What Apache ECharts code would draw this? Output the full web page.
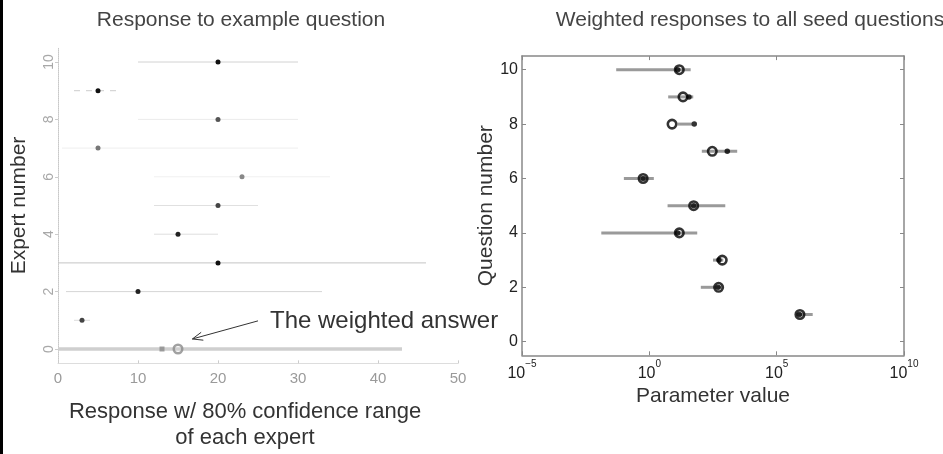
<!DOCTYPE html>
<html><head><meta charset="utf-8">
<script src="https://cdn.jsdelivr.net/npm/echarts@6/dist/echarts.min.js"></script>
<style>html,body{margin:0;padding:0;background:#fff}#c{width:943px;height:454px}</style>
</head><body><div id="c"></div>
<script>
// ---------- Left panel: responses to the example question ----------
const experts        = [1, 2, 3, 4, 5, 6, 7, 8, 9, 10];
const expertResponse = [3, 10, 20, 15, 20, 23, 5, 20, 5, 20];
const expertLow      = [2, 1, 0, 12, 12, 12, 0.5, 10, 2, 10];
const expertHigh     = [4, 33, 46, 20, 25, 34, 30, 30, 8, 30];
const weightedRow    = 0;
const weightedAnswer = 15;
const weightedMarker = 13;
const weightedLow    = 0;
const weightedHigh   = 43;
const leftXTicks     = [0, 10, 20, 30, 40, 50];
const yTicks         = [0, 2, 4, 6, 8, 10];

// ---------- Right panel: weighted responses to all seed questions ----------
const questions     = [1, 2, 3, 4, 5, 6, 7, 8, 9, 10];
const qWeighted     = [8.2e5, 525, 730, 15, 55, 0.57, 296, 7.8, 21, 15];
const qRealization  = [7.8e5, 500, 540, 13, 55, 0.57, 1150, 58, 36, 13];
const qLow          = [6e5, 105, 316, 0.013, 5.2, 0.1, 115, 13, 5.5, 0.05];
const qHigh         = [2.6e6, 710, 800, 76, 960, 1.5, 2820, 47, 53, 42];
const rightXTicks   = [1e-5, 1, 1e5, 1e10];

// ---------- styles (not data) ----------
const FONT = "'Liberation Sans', Arial, sans-serif";
const rowLineColor = ['#dcdcdc', '#d6d6d6', '#c4c4c4', '#dedede', '#e0e0e0', '#f0f0f0', '#eeeeee', '#ebebeb', '#cccccc', '#d2d2d2'];
const rowLineType  = ['solid', 'solid', 'solid', 'solid', 'solid', 'solid', 'solid', 'solid', 'dashed', 'solid'];
const rowDotColor  = ['#444', '#222', '#111', '#222', '#444', '#888', '#777', '#555', '#111', '#111'];

const chart = echarts.init(document.getElementById('c'), null, {renderer: 'canvas'});

const leftRanges = experts.map((e, i) => [expertLow[i], expertHigh[i], e]);
leftRanges.push([weightedLow, weightedHigh, weightedRow]);
const rightRanges = questions.map((q, i) => [qLow[i], qHigh[i], q]);

function rangeRenderer(styleFn) {
  return function (params, api) {
    const y = api.value(2);
    const p1 = api.coord([api.value(0), y]);
    const p2 = api.coord([api.value(1), y]);
    return {type: 'line', shape: {x1: p1[0], y1: p1[1], x2: p2[0], y2: p2[1]}, style: styleFn(params.dataIndex)};
  };
}

const supFmt = v => {
  const e = Math.round(Math.log10(v));
  return '{b|10}{s|' + (e < 0 ? '\u2212' + (-e) : e) + '}';
};

const option = {
  animation: false,
  backgroundColor: '#fff',
  textStyle: {fontFamily: FONT},
  title: [
    {text: 'Response to example question', left: 236, top: 5, textAlign: 'center',
     textStyle: {fontFamily: FONT, fontSize: 21, fontWeight: 'normal', color: '#444'}},
    {text: 'Weighted responses to all seed questions', left: 745, top: 5, textAlign: 'center',
     textStyle: {fontFamily: FONT, fontSize: 21, fontWeight: 'normal', color: '#444'}}
  ],
  grid: [
    {left: 58, top: 47.65, width: 400, height: 315.7, containLabel: false, outerBoundsMode: 'none'},
    {left: 522, top: 56.1, width: 382, height: 299.2, containLabel: false, outerBoundsMode: 'none'}
  ],
  xAxis: [
    {type: 'value', gridIndex: 0, min: 0, max: 50, interval: 10,
     axisLine: {show: true, onZero: false, lineStyle: {color: '#dddddd', width: 1}},
     axisTick: {show: true, inside: true, length: 3, lineStyle: {color: '#cccccc'}},
     axisLabel: {color: '#9a9a9a', fontSize: 15, margin: 8, fontFamily: FONT},
     splitLine: {show: false},
     name: 'Response w/ 80% confidence range\nof each expert', nameLocation: 'middle', nameGap: 36,
     nameTextStyle: {fontSize: 22, color: '#333', lineHeight: 26, fontFamily: FONT, padding: [0, 26, 0, 0]}},
    {type: 'log', gridIndex: 1, logBase: 10, min: 1e-5, max: 1e10, interval: 5,
     axisLine: {show: true, onZero: false, lineStyle: {color: '#888', width: 1.5}},
     axisTick: {show: true, inside: true, length: 4, lineStyle: {color: '#888'}},
     axisLabel: {formatter: supFmt, margin: 4,
       rich: {b: {fontSize: 16, color: '#222', fontFamily: FONT, lineHeight: 22, verticalAlign: 'bottom'},
              s: {fontSize: 10, color: '#222', fontFamily: FONT, lineHeight: 22, verticalAlign: 'top'}}},
     splitLine: {show: false}, minorTick: {show: false},
     name: 'Parameter value', nameLocation: 'middle', nameGap: 23,
     nameTextStyle: {fontSize: 21, color: '#333', fontFamily: FONT}},
    {type: 'log', gridIndex: 1, logBase: 10, min: 1e-5, max: 1e10, interval: 5, position: 'top',
     axisLine: {show: true, onZero: false, lineStyle: {color: '#888', width: 1.5}},
     axisTick: {show: true, inside: true, length: 4, lineStyle: {color: '#888'}},
     axisLabel: {show: false}, splitLine: {show: false}}
  ],
  yAxis: [
    {type: 'value', gridIndex: 0, min: -0.5, max: 10.5,
     axisLine: {show: true, onZero: false, lineStyle: {color: '#c8c8c8', type: 'dotted', width: 1}},
     axisTick: {show: true, length: 3, customValues: yTicks, lineStyle: {color: '#cccccc'}},
     axisLabel: {show: true, customValues: yTicks, rotate: 90, color: '#a8a8a8', fontSize: 14, margin: 2, fontFamily: FONT},
     splitLine: {show: false},
     name: 'Expert number', nameLocation: 'middle', nameGap: 28,
     nameTextStyle: {fontSize: 21, color: '#333', fontFamily: FONT}},
    {type: 'value', gridIndex: 1, min: -0.5, max: 10.5,
     axisLine: {show: true, onZero: false, lineStyle: {color: '#888', width: 1.5}},
     axisTick: {show: true, inside: true, length: 4, customValues: yTicks, lineStyle: {color: '#888'}},
     axisLabel: {show: true, customValues: yTicks, color: '#222', fontSize: 16, margin: 4, fontFamily: FONT},
     splitLine: {show: false},
     name: 'Question number', nameLocation: 'middle', nameGap: 16,
     nameTextStyle: {fontSize: 21, color: '#333', fontFamily: FONT}},
    {type: 'value', gridIndex: 1, min: -0.5, max: 10.5, position: 'right',
     axisLine: {show: true, onZero: false, lineStyle: {color: '#888', width: 1.5}},
     axisTick: {show: true, inside: true, length: 4, customValues: yTicks, lineStyle: {color: '#888'}},
     axisLabel: {show: false}, splitLine: {show: false}}
  ],
  series: [
    {type: 'custom', xAxisIndex: 0, yAxisIndex: 0, data: leftRanges, encode: {x: [0, 1], y: 2},
     renderItem: rangeRenderer(i => i < experts.length
       ? {stroke: rowLineColor[i], lineWidth: 1, lineDash: rowLineType[i] === 'dashed' ? [6, 6] : null}
       : {stroke: '#cfcfcf', lineWidth: 3.5}), z: 1},
    {type: 'scatter', xAxisIndex: 0, yAxisIndex: 0, symbol: 'circle', symbolSize: 5,
     data: experts.map((e, i) => [expertResponse[i], e]),
     itemStyle: {color: p => rowDotColor[p.dataIndex], opacity: 1}, z: 3},
    {type: 'scatter', xAxisIndex: 0, yAxisIndex: 0, symbol: 'rect', symbolSize: 5,
     data: [[weightedMarker, weightedRow]], itemStyle: {color: '#8a8a8a'}, z: 3},
    {type: 'scatter', xAxisIndex: 0, yAxisIndex: 0, symbol: 'circle', symbolSize: 8.5,
     data: [[weightedAnswer, weightedRow]],
     itemStyle: {color: 'rgba(0,0,0,0)', borderColor: '#8a8a8a', borderWidth: 2.5}, z: 4},

    {type: 'custom', xAxisIndex: 1, yAxisIndex: 1, data: rightRanges, encode: {x: [0, 1], y: 2},
     renderItem: rangeRenderer(() => ({stroke: '#9a9a9a', lineWidth: 3})), z: 1},
    {type: 'scatter', xAxisIndex: 1, yAxisIndex: 1, symbol: 'circle', symbolSize: 5.5,
     data: questions.map((q, i) => [qRealization[i], q]), itemStyle: {color: '#000'}, z: 3},
    {type: 'scatter', xAxisIndex: 1, yAxisIndex: 1, symbol: 'circle', symbolSize: 8.5,
     data: questions.map((q, i) => [qWeighted[i], q]),
     itemStyle: {color: 'rgba(0,0,0,0)', borderColor: '#000', borderWidth: 2.6}, z: 4}
  ]
};
chart.setOption(option);

// annotation placed through the left grid's scales
const tip  = chart.convertToPixel({gridIndex: 0}, [16.8, 0.35]);
const tail = chart.convertToPixel({gridIndex: 0}, [25, 0.98]);
const txt  = chart.convertToPixel({gridIndex: 0}, [26.5, 0.98]);
const ang = Math.atan2(tail[1] - tip[1], tail[0] - tip[0]);
const L = 11, spread = 0.38;
const h1 = [tip[0] + L * Math.cos(ang + spread), tip[1] + L * Math.sin(ang + spread)];
const h2 = [tip[0] + L * Math.cos(ang - spread), tip[1] + L * Math.sin(ang - spread)];
chart.setOption({
  graphic: [
    {type: 'rect', left: 0, top: 0, shape: {width: 3, height: 454}, style: {fill: '#000'}, z: 10},
    {type: 'line', shape: {x1: tail[0], y1: tail[1], x2: tip[0], y2: tip[1]}, style: {stroke: '#333', lineWidth: 1}, z: 10},
    {type: 'polyline', shape: {points: [h1, tip, h2]}, style: {stroke: '#333', lineWidth: 1, fill: null}, z: 10},
    {type: 'text', x: txt[0], y: txt[1] + 1, style: {text: 'The weighted answer', fontSize: 24, fontFamily: FONT, fill: '#333', verticalAlign: 'middle', align: 'left'}, z: 10}
  ]
});
</script></body></html>
